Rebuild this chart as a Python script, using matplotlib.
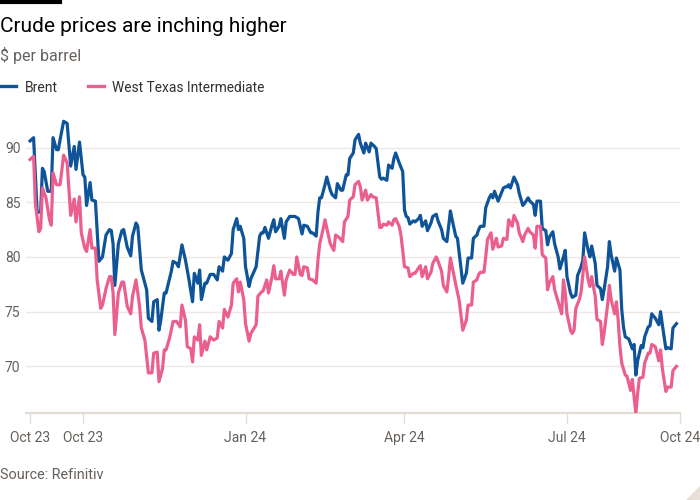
import matplotlib
matplotlib.use("Agg")
import matplotlib.pyplot as plt
import pandas as pd
from matplotlib.lines import Line2D
from matplotlib.patches import Polygon

# ---------------- data ----------------
start_date = "2023-10-02"

brent_day = [0, 2, 4, 6, 7, 8, 10, 12, 13, 15, 16, 17, 19, 21, 23, 25, 26, 28, 30, 31,
             32, 34, 35, 37, 39, 41, 43, 45, 46, 47, 48, 50, 52, 53, 55, 57, 58, 60, 61, 63,
             65, 66, 67, 69, 70, 72, 73, 74, 76, 77, 80, 81, 83, 84, 86, 88, 90, 92, 93, 95,
             96, 97, 99, 100, 102, 104, 106, 107, 109, 110, 112, 114, 115, 117, 118, 119, 121, 122, 124, 125,
             128, 130, 131, 132, 133, 135, 137, 138, 139, 141, 142, 144, 145, 147, 150, 152, 153, 154, 155, 157,
             159, 160, 162, 163, 164, 165, 167, 168, 170, 171, 173, 174, 176, 177, 179, 180, 181, 183, 184, 186,
             187, 189, 190, 192, 193, 195, 196, 198, 199, 200, 202, 203, 205, 206, 207, 209, 211, 212, 213, 214,
             215, 217, 218, 220, 221, 222, 224, 225, 227, 228, 230, 231, 233, 234, 236, 237, 238, 239, 241, 242,
             244, 245, 247, 248, 250, 251, 253, 254, 255, 257, 258, 260, 261, 262, 263, 265, 266, 268, 269, 270,
             271, 272, 274, 276, 277, 279, 280, 282, 283, 285, 286, 287, 289, 290, 292, 293, 294, 296, 297, 299,
             300, 302, 303, 304, 306, 307, 309, 310, 312, 313, 314, 316, 317, 318, 320, 321, 323, 324, 325, 327,
             328, 329, 331, 332, 334, 335, 336, 337, 339, 341, 342, 343, 344, 346, 347, 348, 350, 351, 352, 354,
             356, 357, 358, 360, 361, 363, 364, 366]
brent_usd = [90.6, 90.9, 84.1, 84.1, 88.1, 87.8, 86.0, 86.0, 90.9, 89.8, 89.8, 90.7, 92.4, 92.2, 88.3, 90.1, 88.0, 90.5, 87.5, 87.3,
             84.7, 86.8, 85.2, 85.1, 79.6, 80.0, 82.0, 82.5, 82.4, 81.2, 77.4, 81.2, 82.4, 82.5, 80.9, 80.1, 81.9, 83.1, 82.8, 78.8,
             77.6, 77.0, 74.4, 74.1, 75.9, 76.1, 73.3, 74.2, 76.7, 76.7, 78.7, 79.6, 79.4, 79.1, 81.1, 79.7, 77.9, 75.9, 78.5, 77.6,
             78.8, 76.1, 77.6, 77.6, 78.4, 78.4, 77.9, 79.1, 78.7, 80.0, 79.7, 80.3, 82.5, 83.5, 82.5, 82.8, 81.7, 79.1, 77.3, 78.0,
             79.1, 81.9, 82.2, 82.2, 82.7, 81.7, 82.9, 83.4, 82.3, 82.8, 83.5, 81.7, 83.2, 83.7, 83.7, 83.5, 82.8, 82.1, 82.9, 82.8,
             82.2, 82.2, 81.9, 84.1, 85.4, 85.4, 86.6, 87.3, 86.1, 85.7, 85.4, 86.7, 86.1, 86.1, 87.5, 87.5, 89.0, 89.5, 90.7, 91.2,
             90.4, 89.5, 90.4, 89.6, 90.4, 90.1, 89.9, 87.3, 87.1, 87.2, 87.0, 88.4, 88.1, 89.0, 89.5, 88.6, 87.8, 84.3, 83.7, 83.6,
             83.0, 83.3, 83.2, 83.5, 83.8, 82.8, 83.3, 82.4, 83.1, 83.7, 83.9, 83.3, 82.5, 81.7, 81.4, 82.8, 84.2, 83.4, 81.9, 81.7,
             79.0, 77.6, 78.5, 79.9, 79.9, 81.7, 82.0, 82.5, 82.8, 82.8, 84.5, 85.4, 85.7, 85.4, 86.0, 85.1, 85.5, 86.3, 86.4, 86.4,
             86.6, 86.3, 87.3, 86.6, 85.8, 84.7, 84.9, 85.4, 85.1, 84.8, 83.8, 85.1, 85.1, 82.6, 82.4, 81.1, 81.8, 82.3, 81.2, 80.0,
             78.9, 80.0, 80.6, 78.2, 76.7, 76.3, 76.5, 78.3, 79.1, 79.7, 82.2, 80.6, 80.0, 81.0, 79.4, 77.4, 77.1, 76.1, 77.0, 79.1,
             81.4, 80.2, 78.7, 79.9, 78.8, 75.2, 73.6, 72.7, 72.5, 71.6, 72.0, 69.2, 70.5, 71.9, 71.7, 72.7, 73.6, 73.7, 74.8, 74.4,
             73.8, 75.0, 73.8, 71.6, 71.7, 71.6, 73.5, 73.9]

wti_day = [0, 2, 3, 5, 6, 7, 9, 11, 12, 13, 15, 17, 19, 21, 23, 25, 26, 28, 29, 31,
           32, 34, 35, 37, 38, 40, 41, 43, 45, 46, 47, 48, 50, 52, 53, 55, 57, 58, 60, 62,
           63, 65, 67, 69, 70, 72, 73, 75, 76, 77, 79, 81, 83, 85, 86, 88, 89, 91, 92, 93,
           95, 96, 97, 99, 100, 102, 104, 106, 107, 109, 110, 112, 114, 115, 117, 118, 119, 121, 122, 124,
           125, 128, 129, 131, 132, 134, 135, 137, 138, 139, 141, 142, 144, 145, 147, 149, 150, 151, 153, 154,
           155, 157, 158, 160, 162, 163, 164, 166, 167, 169, 170, 172, 173, 174, 176, 177, 178, 180, 181, 183,
           184, 186, 187, 188, 190, 191, 193, 194, 196, 198, 199, 200, 202, 203, 205, 206, 207, 209, 210, 211,
           212, 214, 215, 217, 218, 220, 221, 222, 224, 225, 227, 228, 230, 231, 233, 234, 236, 237, 238, 239,
           241, 243, 245, 247, 248, 250, 251, 253, 254, 255, 257, 258, 259, 261, 262, 264, 265, 267, 268, 270,
           271, 273, 274, 276, 277, 279, 280, 282, 283, 285, 286, 287, 289, 290, 292, 293, 294, 296, 297, 299,
           301, 302, 303, 304, 306, 307, 308, 309, 311, 312, 314, 316, 317, 318, 320, 321, 323, 324, 325, 327,
           328, 329, 331, 332, 333, 334, 335, 337, 338, 340, 341, 343, 344, 345, 347, 348, 350, 351, 352, 354,
           356, 357, 358, 360, 361, 363, 364, 366]
wti_usd = [88.9, 89.2, 84.9, 82.3, 82.6, 86.3, 85.4, 83.4, 82.9, 87.7, 86.6, 86.6, 89.3, 88.6, 83.8, 85.3, 83.2, 85.5, 82.2, 80.8,
           80.5, 82.5, 80.8, 80.8, 77.9, 75.3, 75.6, 77.1, 78.2, 78.2, 76.7, 72.9, 76.7, 77.7, 77.7, 75.5, 74.8, 76.4, 77.9, 75.5,
           73.5, 72.4, 69.4, 69.4, 71.2, 71.3, 68.6, 69.8, 71.5, 71.5, 72.6, 74.1, 74.1, 73.6, 75.6, 74.2, 71.8, 71.6, 70.4, 72.7,
           72.4, 73.8, 71.0, 72.3, 71.5, 72.7, 72.4, 72.6, 74.1, 73.5, 75.2, 74.5, 75.6, 77.6, 78.0, 76.8, 77.7, 76.1, 73.9, 72.3,
           73.0, 73.8, 76.4, 76.8, 76.9, 77.9, 76.7, 78.2, 79.2, 78.0, 78.0, 78.7, 76.5, 77.9, 78.8, 78.4, 78.4, 80.0, 78.4, 78.3,
           79.1, 79.0, 78.0, 77.9, 77.6, 79.7, 81.2, 82.6, 83.4, 81.9, 81.2, 80.6, 82.0, 81.9, 81.6, 81.4, 83.2, 83.7, 85.2, 85.5,
           86.6, 86.9, 86.4, 85.2, 86.1, 85.2, 85.7, 85.5, 85.4, 82.7, 82.7, 83.0, 82.9, 83.2, 82.9, 83.4, 83.5, 82.8, 82.0, 80.6,
           79.1, 79.0, 78.2, 78.5, 78.5, 79.0, 79.2, 78.2, 79.1, 78.0, 78.6, 79.4, 80.0, 79.6, 78.7, 77.4, 76.8, 78.2, 79.9, 79.1,
           77.5, 76.0, 73.3, 74.2, 75.6, 75.6, 77.7, 77.9, 78.4, 78.6, 78.6, 80.0, 81.6, 82.2, 80.7, 81.7, 80.9, 81.0, 81.7, 81.6,
           83.4, 82.8, 83.8, 83.1, 82.2, 81.4, 82.0, 82.6, 82.3, 82.0, 80.8, 82.8, 82.8, 80.2, 79.9, 77.0, 77.6, 78.2, 77.0, 75.9,
           74.8, 77.9, 76.8, 74.8, 73.3, 73.0, 73.3, 75.3, 76.1, 76.8, 80.0, 77.9, 77.3, 78.2, 76.4, 74.3, 74.1, 72.0, 73.0, 75.6,
           77.4, 76.1, 74.8, 75.9, 74.2, 71.8, 70.3, 69.2, 69.1, 67.8, 68.8, 65.7, 67.5, 68.9, 69.0, 70.3, 71.2, 71.2, 72.0, 71.8,
           70.5, 71.5, 69.8, 67.7, 68.1, 68.1, 69.6, 70.0]

tick_dates = ["2023-10-02", "2023-11-01", "2024-02-01", "2024-05-01", "2024-08-01", "2024-10-04"]
tick_labels = ["Oct 23", "Oct 23", "Jan 24", "Apr 24", "Jul 24", "Oct 24"]
y_ticks = [70, 75, 80, 85, 90]

title = "Crude prices are inching higher"
subtitle = "$ per barrel"
series_names = ["Brent", "West Texas Intermediate"]
source = "Source: Refinitiv"

# ---------------- style ----------------
FONT = "Roboto"
plt.rcParams["font.family"] = [FONT, "DejaVu Sans"]
BLUE = "#0F5499"
PINK = "#EB5F8F"
GREY = "#66605C"
DARK = "#33302E"
GRID = "#EDE8E3"
AXIS = "#E3DCD5"

W, H = 700, 500
fig = plt.figure(figsize=(7, 5), dpi=100)
fig.patch.set_facecolor("white")


def fx(px):
    return px / W


def fy(py):
    return 1 - py / H


ax = fig.add_axes([fx(26), fy(412.7), fx(680) - fx(26), fy(114.7) - fy(412.7)])

t0 = pd.Timestamp(start_date)
b_dates = t0 + pd.to_timedelta(brent_day, unit="D")
w_dates = t0 + pd.to_timedelta(wti_day, unit="D")

ax.plot(b_dates, brent_usd, color=BLUE, lw=2.3, solid_joinstyle="round", zorder=3)
ax.plot(w_dates, wti_usd, color=PINK, lw=2.3, solid_joinstyle="round", zorder=3)

ax.set_xlim(t0 - pd.Timedelta(days=2.3), t0 + pd.Timedelta(days=368))
ax.set_ylim(65.76, 93)

ax.set_yticks(y_ticks)
ax.set_yticklabels([str(v) for v in y_ticks])
ax.set_xticks(pd.to_datetime(tick_dates))
ax.set_xticklabels(tick_labels)

ax.grid(axis="y", color=GRID, lw=1.0)
ax.set_axisbelow(True)
for s in ["top", "right", "left"]:
    ax.spines[s].set_visible(False)
ax.spines["bottom"].set_color(AXIS)
ax.spines["bottom"].set_linewidth(1.6)

ax.tick_params(axis="y", length=0, pad=4, labelsize=10, labelcolor=GREY)
ax.tick_params(axis="x", length=7.5, width=1, color=AXIS, pad=6, labelsize=10, labelcolor=GREY)

# ---------------- header, legend, footer ----------------
fig.add_artist(Line2D([0, fx(60)], [fy(2), fy(2)], color="black", lw=3))
fig.text(0, fy(32.3), title, fontsize=15, color="black", va="baseline", ha="left")
fig.text(0, fy(61), subtitle, fontsize=11.5, color=GREY, va="baseline", ha="left")

fig.add_artist(Line2D([0, fx(16)], [fy(86), fy(86)], color=BLUE, lw=2.4))
fig.text(fx(25), fy(91.5), series_names[0], fontsize=10, color=DARK, va="baseline", ha="left")
fig.add_artist(Line2D([fx(88), fx(104)], [fy(86), fy(86)], color=PINK, lw=2.4))
fig.text(fx(112), fy(91.5), series_names[1], fontsize=9.9, color=DARK, va="baseline", ha="left")

fig.text(0, fy(479), source, fontsize=10.4, color=GREY, va="baseline", ha="left")

fig.add_artist(Polygon([[fx(686), fy(500)], [fx(700), fy(500)], [fx(700), fy(486)]],
                       closed=True, facecolor="#E9DFD6", edgecolor="none", transform=fig.transFigure))

fig.savefig("out.png", dpi=100, facecolor="white")
